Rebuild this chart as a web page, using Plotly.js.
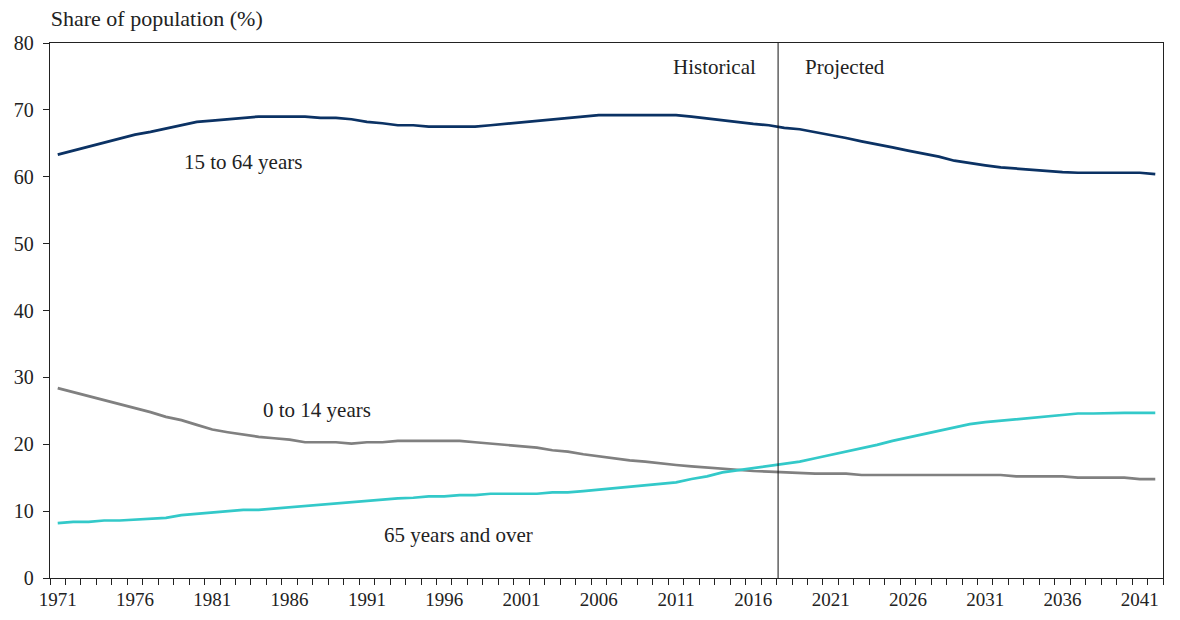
<!DOCTYPE html>
<html>
<head>
<meta charset="utf-8">
<script src="https://cdn.plot.ly/plotly-3.0.1.min.js"></script>
<style>html,body{margin:0;padding:0;background:#fff;}#chart{width:1180px;height:620px;}</style>
</head>
<body>
<div id="chart"></div>
<script>
const years = [];
for (let y = 1971; y <= 2042; y++) years.push(y);

const age15to64 = [63.3,63.9,64.5,65.2,65.8,66.3,66.7,67.2,67.6,68.2,
  68.4,68.6,68.8,69.0,69.0,69.0,69.0,68.8,68.8,68.6,
  68.2,68.0,67.7,67.7,67.5,67.5,67.5,67.5,67.7,67.9,
  68.1,68.4,68.6,68.8,69.0,69.2,69.2,69.2,69.2,69.2,
  69.2,69.0,68.7,68.4,68.1,67.9,67.7,67.3,67.1,66.7,
  66.2,65.8,65.3,64.9,64.4,63.9,63.5,63.0,62.4,62.0,
  61.7,61.4,61.2,61.0,60.8,60.7,60.6,60.6,60.6,60.6,
  60.6,60.4];

const age0to14 = [28.4,27.8,27.3,26.7,26.0,25.4,24.8,24.1,23.6,22.9,
  22.2,21.8,21.4,21.1,20.9,20.7,20.3,20.3,20.3,20.1,
  20.3,20.3,20.5,20.5,20.5,20.5,20.5,20.3,20.1,19.9,
  19.7,19.5,19.1,18.9,18.5,18.2,17.8,17.6,17.4,17.1,
  16.9,16.7,16.5,16.3,16.1,16.0,15.9,15.8,15.6,15.6,
  15.6,15.6,15.4,15.4,15.4,15.4,15.4,15.4,15.4,15.4,
  15.4,15.4,15.2,15.2,15.2,15.2,15.0,15.0,15.0,15.0,
  14.8,14.8];

const age65plus = [8.2,8.4,8.4,8.6,8.6,8.7,8.9,9.0,9.4,9.6,
  9.8,10.0,10.2,10.2,10.4,10.6,10.8,11.0,11.2,11.4,
  11.6,11.8,11.9,12.0,12.2,12.2,12.4,12.4,12.6,12.6,
  12.6,12.6,12.8,12.8,13.0,13.2,13.4,13.6,13.8,14.1,
  14.3,14.8,15.2,15.8,16.1,16.5,16.7,17.0,17.4,17.9,
  18.4,18.9,19.3,19.9,20.5,21.0,21.5,22.1,22.6,23.0,
  23.3,23.5,23.7,24.0,24.2,24.4,24.6,24.6,24.7,24.7,
  24.7,24.7];

const tickYears = [1971,1976,1981,1986,1991,1996,2001,2006,2011,2016,2021,2026,2031,2036,2041];
const tickLabels = tickYears.map(String);
const yTicks = [0,10,20,30,40,50,60,70,80];

const FONT = 'Liberation Serif';
const TXT = '#222';

const traces = [
  {x: years, y: age15to64, type: 'scatter', mode: 'lines', name: '15 to 64 years',
   line: {color: '#0b3264', width: 2.7}},
  {x: years, y: age0to14, type: 'scatter', mode: 'lines', name: '0 to 14 years',
   line: {color: '#808080', width: 2.7}},
  {x: years, y: age65plus, type: 'scatter', mode: 'lines', name: '65 years and over',
   line: {color: '#33c9c9', width: 2.7}}
];

function note(text, x, y, anchor) {
  return {text: text, x: x, y: y, xref: 'x', yref: 'y', xanchor: anchor, yanchor: 'middle',
          showarrow: false, font: {family: FONT, size: 21, color: TXT}};
}

const layout = {
  width: 1180, height: 620,
  margin: {l: 50, r: 17, t: 43, b: 42},
  paper_bgcolor: '#fff', plot_bgcolor: '#fff',
  showlegend: false,
  font: {family: FONT, size: 19, color: TXT},
  title: {text: 'Share of population (%)', xref: 'container', yref: 'container',
          x: 0.043, xanchor: 'left', y: 0.971, yanchor: 'middle',
          font: {family: FONT, size: 22, color: TXT}},
  xaxis: {
    range: [1970.5, 2042.5], tickmode: 'array', tickvals: tickYears, ticktext: tickLabels,
    ticks: '', showgrid: false, zeroline: false,
    showline: true, linecolor: TXT, linewidth: 1.3, mirror: true,
    tickfont: {family: FONT, size: 19, color: TXT},
    ticklabelstandoff: 4,
    minor: {tick0: 1970.5, dtick: 1, ticks: 'outside', ticklen: 6, tickcolor: TXT, tickwidth: 1, showgrid: false},
    fixedrange: true
  },
  yaxis: {
    range: [0, 80], tickmode: 'array', tickvals: yTicks,
    ticks: 'outside', ticklen: 6, tickcolor: TXT,
    showgrid: false, zeroline: false,
    showline: true, linecolor: TXT, linewidth: 1.3, mirror: true,
    tickfont: {family: FONT, size: 20, color: TXT},
    ticklabelstandoff: 5,
    fixedrange: true
  },
  shapes: [
    {type: 'line', xref: 'x', yref: 'y', x0: 2017.6, x1: 2017.6, y0: 0, y1: 80,
     line: {color: '#111', width: 1}}
  ],
  annotations: [
    note('Historical', 2016.3, 76.4, 'right'),
    note('Projected', 2019.2, 76.4, 'left'),
    note('15 to 64 years', 1983.0, 62.2, 'center'),
    note('0 to 14 years', 1987.8, 25.1, 'center'),
    note('65 years and over', 1996.9, 6.4, 'center')
  ]
};

Plotly.newPlot('chart', traces, layout, {displayModeBar: false, staticPlot: true});
</script>
</body>
</html>
